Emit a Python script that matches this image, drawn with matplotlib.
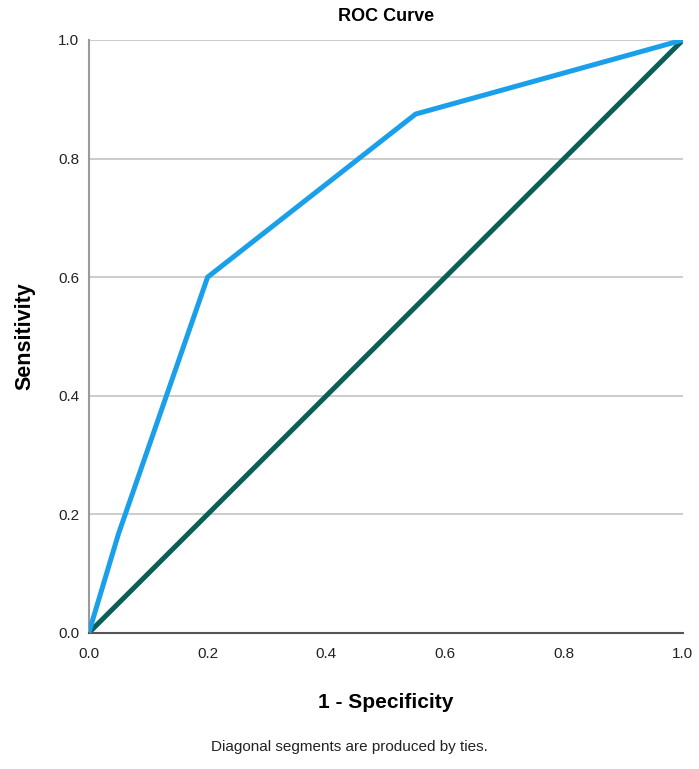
import matplotlib
matplotlib.use('Agg')
import matplotlib.pyplot as plt

# ROC points
fpr = [0.0, 0.05, 0.2, 0.55, 1.0]
tpr = [0.0, 0.167, 0.6, 0.875, 1.0]
ref_line = [0.0, 1.0]
ticks = [0.0, 0.2, 0.4, 0.6, 0.8, 1.0]
tick_labels = ['0.0', '0.2', '0.4', '0.6', '0.8', '1.0']


def main():
    plt.rcParams['font.family'] = ['Liberation Sans', 'DejaVu Sans']

    fig = plt.figure(figsize=(6.99, 7.69), dpi=100)
    ax = fig.add_axes([0.127, 0.177, 0.85, 0.771])

    for t in ticks[1:]:
        ax.axhline(t, color='#c8c8c8', lw=1.3, zorder=0)

    ax.plot(ref_line, ref_line, color='#0b5f57', lw=3.6, solid_capstyle='butt', zorder=2)
    ax.plot(fpr, tpr, color='#1a9fea', lw=3.6, solid_joinstyle='miter', zorder=3)

    ax.set_xlim(0, 1)
    ax.set_ylim(0, 1)
    ax.set_xticks(ticks)
    ax.set_xticklabels(tick_labels)
    ax.set_yticks(ticks)
    ax.set_yticklabels(tick_labels)
    ax.tick_params(length=0, labelsize=11, colors='#222222')
    ax.tick_params(axis='x', pad=10)
    ax.tick_params(axis='y', pad=7)

    for side in ('top', 'right'):
        ax.spines[side].set_visible(False)
    ax.spines['left'].set_color('#9a9a9a')
    ax.spines['left'].set_linewidth(1.5)
    ax.spines['bottom'].set_color('#555555')
    ax.spines['bottom'].set_linewidth(1.5)

    ax.set_title('ROC Curve', fontsize=13, fontweight='bold', pad=14)
    ax.set_xlabel('1 - Specificity', fontsize=15, fontweight='bold', labelpad=23)
    ax.set_ylabel('Sensitivity', fontsize=15.5, fontweight='bold', labelpad=16)

    fig.text(0.5, 0.028, 'Diagonal segments are produced by ties.',
             ha='center', va='center', fontsize=11, color='#222222')

    fig.savefig('out.png', dpi=100)


if __name__ == '__main__':
    main()
